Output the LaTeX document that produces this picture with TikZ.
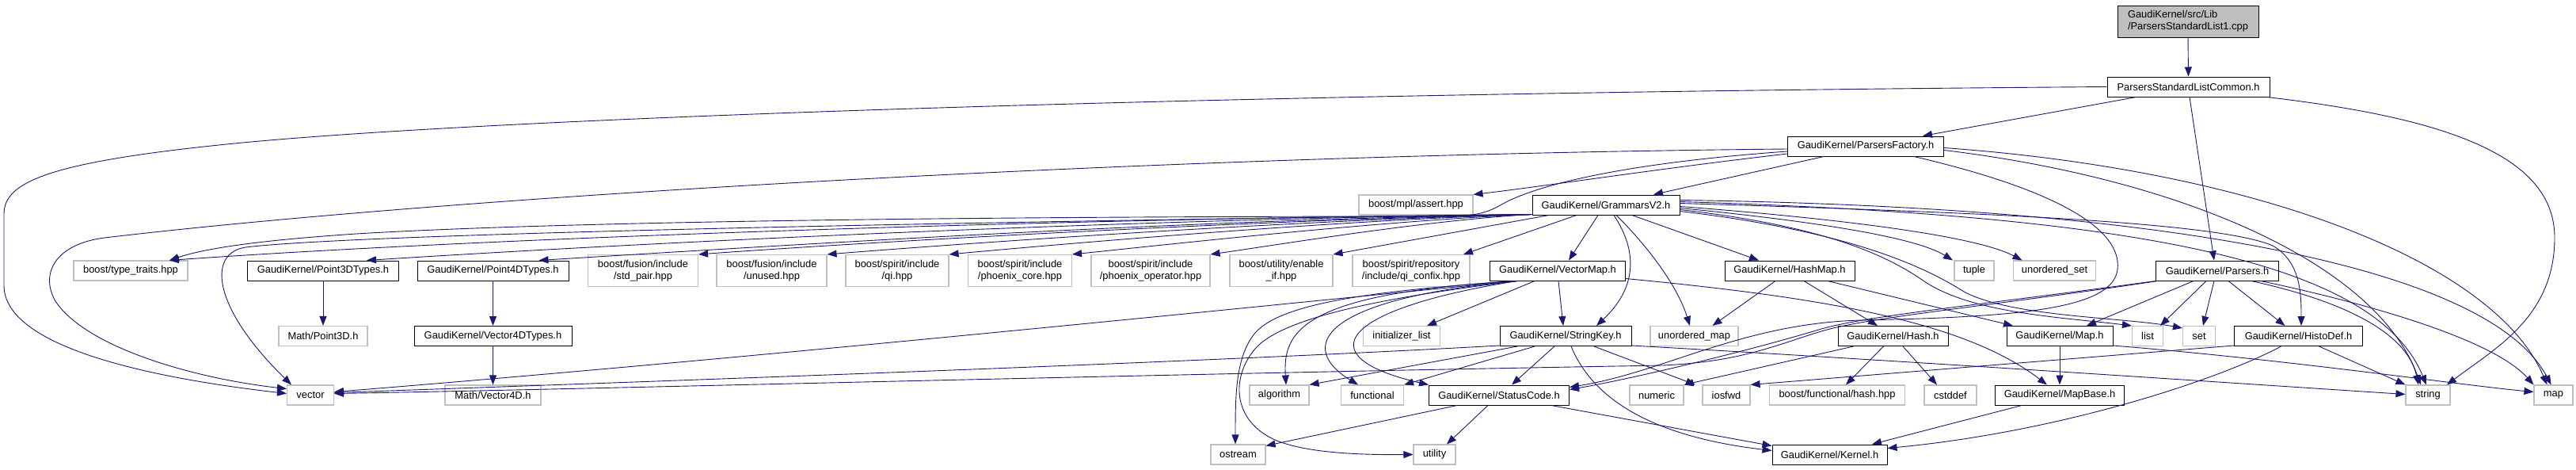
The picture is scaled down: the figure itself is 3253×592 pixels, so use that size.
\documentclass[tikz,border=0pt]{standalone}
\usepackage{fontspec}
\setmainfont{Liberation Sans}
\usetikzlibrary{arrows.meta}
\definecolor{edgec}{HTML}{191970}
\definecolor{greyf}{HTML}{BFBFBF}
\begin{document}
\begin{tikzpicture}[x=1pt,y=-1pt,
  base/.style={draw=black, line width=1pt, fill=white, inner sep=0pt,
    font=\fontsize{12.9}{15}\selectfont, align=center, minimum height=25pt},
  doc/.style={base},
  ext/.style={base, draw=greyf, line width=1.1pt},
  ext2/.style={ext, minimum height=40pt},
  mainnode/.style={base, fill=greyf, minimum height=40pt, align=left},
  edge/.style={draw=edgec, line width=0.9pt, -{Triangle[length=12pt,width=9pt]}},
]
\useasboundingbox (0,0) rectangle (3253,592);
% row 0-3
\node[mainnode, minimum width=178pt] (main) at (2763,27) {GaudiKernel/src/Lib\\/ParsersStandardList1.cpp};
\node[doc, minimum width=205pt] (common) at (2763.5,109.5) {ParsersStandardListCommon.h};
\node[doc, minimum width=197pt] (pf) at (2356,184.5) {GaudiKernel/ParsersFactory.h};
\node[ext, minimum width=144pt] (assert) at (1788,258.5) {boost/mpl/assert.hpp};
\node[doc, minimum width=186pt] (gram) at (2028,258.5) {GaudiKernel/GrammarsV2.h};
% row 4
\node[ext, minimum width=144pt] (tt) at (165,341.5) {boost/type\_traits.hpp};
\node[doc, minimum width=191pt] (p3) at (408,341.5) {GaudiKernel/Point3DTypes.h};
\node[doc, minimum width=191pt] (p4) at (622.5,341.5) {GaudiKernel/Point4DTypes.h};
\node[ext2, minimum width=139pt] (stdpair) at (812,341.5) {boost/fusion/include\\/std\_pair.hpp};
\node[ext2, minimum width=139pt] (unused) at (974.5,341.5) {boost/fusion/include\\/unused.hpp};
\node[ext2, minimum width=130pt] (qi) at (1133,341.5) {boost/spirit/include\\/qi.hpp};
\node[ext2, minimum width=131pt] (pcore) at (1288,341.5) {boost/spirit/include\\/phoenix\_core.hpp};
\node[ext2, minimum width=150pt] (pop) at (1453,341.5) {boost/spirit/include\\/phoenix\_operator.hpp};
\node[ext2, minimum width=130pt] (enable) at (1618,341.5) {boost/utility/enable\\\_if.hpp};
\node[ext2, minimum width=148pt] (confix) at (1782,341.5) {boost/spirit/repository\\/include/qi\_confix.hpp};
\node[doc, minimum width=171pt] (vmap) at (1967,341.5) {GaudiKernel/VectorMap.h};
\node[doc, minimum width=164pt] (hmap) at (2260,341.5) {GaudiKernel/HashMap.h};
\node[ext, minimum width=50pt] (tuple) at (2493,341.5) {tuple};
\node[ext, minimum width=104pt] (uset) at (2594.5,341.5) {unordered\_set};
\node[doc, minimum width=155pt] (parsers) at (2800,341.5) {GaudiKernel/Parsers.h};
% row 5
\node[ext, minimum width=112pt] (mp3) at (408,424) {Math/Point3D.h};
\node[doc, minimum width=199pt] (v4t) at (622.5,424) {GaudiKernel/Vector4DTypes.h};
\node[ext, minimum width=97pt] (ilist) at (1770,424) {initializer\_list};
\node[doc, minimum width=166pt] (skey) at (1977,424) {GaudiKernel/StringKey.h};
\node[ext, minimum width=111pt] (umap) at (2139.5,424) {unordered\_map};
\node[doc, minimum width=139pt] (hash) at (2390.5,424) {GaudiKernel/Hash.h};
\node[doc, minimum width=134pt] (gmap) at (2601,424) {GaudiKernel/Map.h};
\node[ext, minimum width=39pt] (list) at (2712,424) {list};
\node[ext, minimum width=41pt] (set) at (2777,424) {set};
\node[doc, minimum width=162pt] (histo) at (2902.5,424) {GaudiKernel/HistoDef.h};
% row 6
\node[ext, minimum width=59pt] (vec) at (392,498.5) {vector};
\node[ext, minimum width=121pt] (mv4) at (622.5,498.5) {Math/Vector4D.h};
\node[ext, minimum width=75pt] (algo) at (1615.5,498.5) {algorithm};
\node[ext, minimum width=79pt] (func) at (1733,498.5) {functional};
\node[doc, minimum width=177pt] (sc) at (1893,498.5) {GaudiKernel/StatusCode.h};
\node[ext, minimum width=68pt] (numeric) at (2092,498.5) {numeric};
\node[ext, minimum width=60pt] (iosfwd) at (2180,498.5) {iosfwd};
\node[ext, minimum width=171pt] (bfh) at (2320,498.5) {boost/functional/hash.hpp};
\node[ext, minimum width=66pt] (cstddef) at (2463,498.5) {cstddef};
\node[doc, minimum width=163pt] (mapbase) at (2601,498.5) {GaudiKernel/MapBase.h};
\node[ext, minimum width=56pt] (string) at (3066,498.5) {string};
\node[ext, minimum width=49pt] (map) at (3224.5,498.5) {map};
% row 7
\node[ext, minimum width=69pt] (ostream) at (1563.5,573.5) {ostream};
\node[ext, minimum width=53pt] (utility) at (1811.5,573.5) {utility};
\node[doc, minimum width=145pt] (kernel) at (2310.5,573.5) {GaudiKernel/Kernel.h};

% ---------------- edges ----------------
\draw[edge] (main.south) -- (common.north);
% ParsersStandardListCommon.h
\draw[edge] ([xshift=-66pt]common.south) -- ([xshift=72pt]pf.north);
\draw[edge] ([xshift=1.5pt]common.south) -- ([xshift=-4pt]parsers.north);
\draw[edge] ([xshift=99pt]common.south) .. controls (3100,150) and (3226,200) .. (3226,300) .. controls (3226,400) and (3150,440) .. ([xshift=24pt]string.north);
\draw[edge] (common.west) .. controls (1500,118) and (600,150) .. (286,182) .. controls (60,205) and (5,230) .. (5,270) -- (5,360) .. controls (5,440) and (200,478) .. ([yshift=2pt]vec.west);
% ParsersFactory.h
\draw[edge] ([yshift=-3.5pt]pf.west) .. controls (1500,195) and (600,245) .. (132,300) .. controls (70,308) and (50,345) .. (70,380) .. controls (110,440) and (250,478) .. ([yshift=8pt]vec.west);
\draw[edge] ([yshift=-6.5pt]pf.west) .. controls (2020,208) and (1930,240) .. (1900,256) .. controls (1880,267) and (1870,273) .. (1820,273) .. controls (1200,273) and (700,280) .. (450,295) .. controls (330,303) and (260,313) .. ([xshift=49pt]tt.north);
\draw[edge] ([yshift=-9.5pt]pf.west) .. controls (2100,212) and (1950,235) .. (assert.north east);
\draw[edge] ([xshift=-53pt]pf.south) -- ([xshift=60pt]gram.north);
\draw[edge] ([xshift=61pt]pf.south) .. controls (2600,240) and (2680,290) .. (2674,340) .. controls (2668,390) and (2550,400) .. (2350,404) .. controls (2200,408) and (2100,470) .. ([yshift=10pt]sc.east);
\draw[edge] ([yshift=-2pt]pf.east) .. controls (2850,215) and (3150,330) .. ([xshift=-8pt]map.north);
\draw[edge] ([yshift=-5pt]pf.east) .. controls (2750,225) and (3000,330) .. ([xshift=-9pt]string.north);
% GrammarsV2.h
\draw[edge] ([yshift=1pt]gram.south west) .. controls (1335,276) and (614,300) .. ([xshift=49pt]tt.north);
\draw[edge] ([yshift=1pt]gram.south west) .. controls (1200,280) and (450,295) .. (310,312) .. controls (260,320) and (270,390) .. ([xshift=-24pt]vec.north);
\draw[edge] ([yshift=1pt]gram.south west) .. controls (1435,276) and (814,306) .. ([xshift=55pt]p3.north);
\draw[edge] ([yshift=1pt]gram.south west) .. controls (1500,277) and (981,310) .. ([xshift=58pt]p4.north);
\draw[edge] ([yshift=1pt]gram.south west) .. controls (1600,277) and (1100,305) .. (stdpair.north east);
\draw[edge] ([yshift=1pt]gram.south west) .. controls (1650,277) and (1230,306) .. (unused.north east);
\draw[edge] ([yshift=1pt]gram.south west) .. controls (1700,277) and (1350,307) .. (qi.north east);
\draw[edge] ([yshift=1pt]gram.south west) .. controls (1750,278) and (1480,308) .. (pcore.north east);
\draw[edge] ([yshift=1pt]gram.south west) .. controls (1800,278) and (1620,308) .. (pop.north east);
\draw[edge] ([xshift=-72pt]gram.south) -- (enable.north east);
\draw[edge] ([xshift=-37pt]gram.south) -- ([xshift=66pt]confix.north);
\draw[edge] ([xshift=-10pt]gram.south) -- ([xshift=14pt]vmap.north);
\draw[edge] ([xshift=10pt]gram.south) .. controls (2070,320) and (2065,365) .. ([xshift=39pt]skey.north);
\draw[edge] ([xshift=13pt]gram.south) .. controls (2080,310) and (2118,360) .. ([xshift=-5.5pt]umap.north);
\draw[edge] ([xshift=33pt]gram.south) -- ([xshift=-39pt]hmap.north);
\draw[edge] ([yshift=-4pt]gram.east) .. controls (2300,280) and (2420,300) .. ([xshift=-27pt]tuple.north);
\draw[edge] ([yshift=-2pt]gram.east) .. controls (2350,278) and (2500,300) .. ([xshift=-41pt]uset.north);
\draw[edge] ([yshift=-6pt]gram.east) .. controls (2300,285) and (2380,320) .. (2430,355) .. controls (2490,395) and (2600,400) .. (list.north west);
\draw[edge] ([yshift=-8pt]gram.east) .. controls (2320,290) and (2420,330) .. (2480,368) .. controls (2540,400) and (2680,400) .. ([yshift=-3pt]set.north west);
\draw[edge] ([yshift=2pt]gram.east) .. controls (2500,268) and (2800,280) .. (2870,310) .. controls (2905,330) and (2906,370) .. ([xshift=3.5pt]histo.north);
\draw[edge] ([yshift=4pt]gram.east) .. controls (2700,272) and (3000,330) .. ([xshift=-2pt]string.north);
\draw[edge] ([yshift=6pt]gram.east) .. controls (2800,262) and (3150,350) .. ([xshift=-3pt]map.north);
% Parsers.h
\draw[edge] ([xshift=-30pt]parsers.south) -- ([xshift=34pt]gmap.north);
\draw[edge] ([xshift=-14pt]parsers.south) -- ([xshift=16pt]list.north);
\draw[edge] ([xshift=-4pt]parsers.south) -- ([xshift=5pt]set.north);
\draw[edge] ([xshift=14pt]parsers.south) -- ([xshift=-17pt]histo.north);
\draw[edge] ([xshift=43pt]parsers.south) .. controls (2960,380) and (3040,420) .. ([xshift=-12pt]string.north);
\draw[edge] ([xshift=55pt]parsers.south) .. controls (3000,385) and (3150,430) .. (map.north west);
\draw[edge] (parsers.south west) .. controls (2500,385) and (2360,398) .. (2300,415) .. controls (2200,445) and (2060,478) .. ([yshift=7pt]sc.east);
\draw[edge] ([xshift=3pt]parsers.south west) .. controls (2500,388) and (2360,400) .. (2300,418) .. controls (2240,436) and (2200,456) .. (2100,461) .. controls (1500,471) and (700,492) .. ([yshift=2pt]vec.east);
% VectorMap.h
\draw[edge] ([xshift=-29pt]vmap.south) -- ([xshift=32pt]ilist.north);
\draw[edge] ([xshift=1pt]vmap.south) -- ([xshift=-3pt]skey.north);
\draw[edge] ([xshift=-51pt]vmap.south) .. controls (1640,370) and (1620,420) .. ([xshift=8.5pt]algo.north);
\draw[edge] ([xshift=-51pt]vmap.south) .. controls (1660,378) and (1640,440) .. ([xshift=-18pt]func.north);
\draw[edge] ([xshift=-51pt]vmap.south) .. controls (1690,390) and (1650,450) .. (sc.north west);
\draw[edge] ([xshift=-51pt]vmap.south) .. controls (1750,366) and (1620,380) .. (1585,420) .. controls (1560,450) and (1560,500) .. ([xshift=-3.5pt]ostream.north);
\draw[edge] ([xshift=-51pt]vmap.south) .. controls (1750,375) and (1620,400) .. (1585,440) .. controls (1555,475) and (1555,530) .. (1610,555) .. controls (1650,572) and (1720,574) .. (utility.west);
\draw[edge] ([xshift=-51pt]vmap.south) .. controls (1700,375) and (1000,448) .. ([yshift=4pt]vec.east);
\draw[edge] ([yshift=-10pt]vmap.east) .. controls (2300,375) and (2480,405) .. ([xshift=-16pt]mapbase.north);
% StringKey.h
\draw[edge] ([xshift=-61pt]skey.south) -- (algo.north east);
\draw[edge] ([xshift=-39pt]skey.south) -- (func.north east);
\draw[edge] ([xshift=-14pt]skey.south) -- ([xshift=16pt]sc.north);
\draw[edge] ([xshift=36pt]skey.south) -- ([xshift=-39pt]iosfwd.north);
\draw[edge] ([xshift=7pt]skey.south) .. controls (2010,500) and (2080,550) .. ([yshift=5pt]kernel.west);
\draw[edge] ([yshift=-12pt]skey.east) .. controls (2400,455) and (2800,482) .. ([yshift=1pt]string.west);
\draw[edge] ([yshift=-12pt]skey.west) .. controls (1500,458) and (800,482) .. ([yshift=3pt]vec.east);
% StatusCode.h
\draw[edge] ([xshift=-53pt]sc.south) -- ([yshift=-2pt]ostream.north east);
\draw[edge] ([xshift=-14pt]sc.south) -- ([xshift=15.5pt]utility.north);
\draw[edge] ([xshift=66pt]sc.south) -- ([yshift=11pt]kernel.west);
% Hash.h
\draw[edge] ([xshift=-12pt]hash.south) -- ([xshift=11pt]bfh.north);
\draw[edge] ([xshift=12.5pt]hash.south) -- ([xshift=-17pt]cstddef.north);
\draw[edge] ([xshift=-50pt]hash.south) -- (numeric.north east);
% HashMap.h
\draw[edge] ([xshift=-18pt]hmap.south) -- ([xshift=23pt]umap.north);
\draw[edge] ([xshift=18pt]hmap.south) -- ([xshift=-19.5pt]hash.north);
\draw[edge] ([xshift=48pt]hmap.south) -- ([xshift=-59pt]gmap.north);
% Map.h
\draw[edge] (gmap.south) -- (mapbase.north);
\draw[edge] ([yshift=-12pt]gmap.east) .. controls (2900,455) and (3100,485) .. ([yshift=4pt]map.west);
% HistoDef.h
\draw[edge] ([yshift=-12pt]histo.west) -- (iosfwd.north east);
\draw[edge] ([xshift=-22pt]histo.south) .. controls (2800,480) and (2600,545) .. ([yshift=8pt]kernel.east);
\draw[edge] ([xshift=26pt]histo.south) -- (string.north west);
% MapBase.h
\draw[edge] ([xshift=-48pt]mapbase.south) -- ([xshift=53.5pt]kernel.north);
% types
\draw[edge] (p3.south) -- (mp3.north);
\draw[edge] (p4.south) -- (v4t.north);
\draw[edge] (v4t.south) -- (mv4.north);
\end{tikzpicture}
\end{document}
